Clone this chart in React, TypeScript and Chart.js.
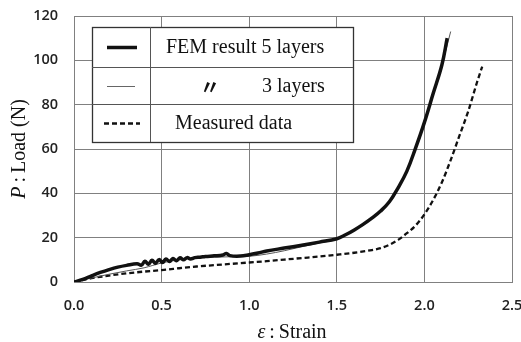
import React, { useEffect, useRef } from "react";
import { Chart, registerables } from "chart.js";

Chart.register(...registerables);

// ---- Data ----
const fem5X = [0, 0.05, 0.1, 0.15, 0.2, 0.25, 0.3, 0.36, 0.385, 0.405, 0.425, 0.445, 0.465, 0.485, 0.505, 0.525, 0.545, 0.565, 0.585, 0.605, 0.625, 0.645, 0.665, 0.69, 0.72, 0.75, 0.8, 0.85, 0.87, 0.89, 0.95, 1.0, 1.05, 1.1, 1.2, 1.3, 1.4, 1.5, 1.55, 1.6, 1.65, 1.7, 1.75, 1.8, 1.85, 1.9, 1.95, 2.0, 2.05, 2.1, 2.13];
const fem5Y = [0, 1.2, 2.8, 4.3, 5.6, 6.7, 7.5, 8.2, 7.6, 9.4, 8.0, 9.8, 8.4, 10.1, 8.8, 10.4, 9.2, 10.6, 9.6, 10.9, 10.0, 11.0, 10.4, 11.0, 11.2, 11.5, 11.8, 12.2, 12.9, 11.9, 11.7, 12.3, 13.1, 14.0, 15.3, 16.6, 18.0, 19.5, 21.3, 23.5, 26.0, 28.8, 32.0, 36.2, 42.5, 50.0, 60.5, 72.0, 85.0, 98.0, 110.0];

const fem3X = [0, 0.1, 0.2, 0.3, 0.4, 0.45, 0.5, 0.55, 0.6, 0.7, 0.8, 0.9, 1.0, 1.1, 1.2, 1.3, 1.4, 1.5, 1.55, 1.6, 1.65, 1.7, 1.75, 1.8, 1.85, 1.9, 1.95, 2.0, 2.05, 2.1, 2.15];
const fem3Y = [0, 1.8, 3.5, 5.0, 6.4, 7.5, 8.6, 9.4, 10.0, 10.8, 11.2, 11.4, 11.6, 12.6, 14.1, 15.9, 17.6, 19.3, 21.1, 23.3, 25.8, 28.6, 31.8, 36.0, 42.3, 49.8, 60.3, 71.8, 84.8, 97.8, 113.0];

const measX = [0, 0.05, 0.1, 0.2, 0.3, 0.4, 0.5, 0.6, 0.7, 0.8, 0.9, 1.0, 1.1, 1.2, 1.3, 1.4, 1.5, 1.6, 1.7, 1.75, 1.8, 1.85, 1.9, 1.95, 2.0, 2.05, 2.1, 2.15, 2.2, 2.25, 2.3, 2.33];
const measY = [0, 0.9, 1.7, 2.9, 3.9, 4.7, 5.4, 6.2, 7.0, 7.6, 8.2, 8.8, 9.4, 10.1, 10.8, 11.5, 12.3, 13.2, 14.4, 15.3, 16.8, 19.0, 22.0, 25.5, 30.5, 37.0, 45.0, 55.0, 66.0, 77.0, 90.0, 97.2];

const xTicks = [0, 0.5, 1.0, 1.5, 2.0, 2.5];
const yTicks = [0, 20, 40, 60, 80, 100, 120];

const legendRows = ["FEM result 5 layers", "3 layers", "Measured data"];
const dittoMark = "\u3003";
const xTitleSym = "ε";
const xTitleText = "\u2009:\u2009Strain";
const yTitleSym = "P";
const yTitleText = "\u2009:\u2009Load (N)";

const toPts = (xs: number[], ys: number[]) => xs.map((x, i) => ({ x, y: ys[i] }));

const SERIF = "'Liberation Serif', 'DejaVu Serif', serif";

const overlayPlugin = {
  id: "overlay",
  afterDraw(chart: any) {
    const ctx = chart.ctx as CanvasRenderingContext2D;
    const area = chart.chartArea;
    ctx.save();
    // Legend box
    const L = 92, T = 27, R = 353, B = 142;
    ctx.fillStyle = "#fff";
    ctx.fillRect(L, T, R - L, B - T);
    ctx.strokeStyle = "#333";
    ctx.lineWidth = 1.3;
    ctx.strokeRect(L + 0.5, T + 0.5, R - L, B - T);
    ctx.lineWidth = 1;
    ctx.strokeStyle = "#555";
    ctx.beginPath();
    ctx.moveTo(150.5, T);
    ctx.lineTo(150.5, B);
    ctx.moveTo(L, 67.5);
    ctx.lineTo(R, 67.5);
    ctx.moveTo(L, 104.5);
    ctx.lineTo(R, 104.5);
    ctx.stroke();
    // samples
    ctx.strokeStyle = "#111";
    ctx.lineWidth = 3.5;
    ctx.beginPath();
    ctx.moveTo(107, 47.5);
    ctx.lineTo(137, 47.5);
    ctx.stroke();
    ctx.strokeStyle = "#666";
    ctx.lineWidth = 1;
    ctx.beginPath();
    ctx.moveTo(107, 86.5);
    ctx.lineTo(135, 86.5);
    ctx.stroke();
    ctx.strokeStyle = "#111";
    ctx.lineWidth = 2.5;
    ctx.setLineDash([5, 3]);
    ctx.beginPath();
    ctx.moveTo(104, 123.5);
    ctx.lineTo(140, 123.5);
    ctx.stroke();
    ctx.setLineDash([]);
    // legend text
    ctx.fillStyle = "#111";
    ctx.textBaseline = "middle";
    ctx.textAlign = "left";
    ctx.font = `20px ${SERIF}`;
    ctx.fillText(legendRows[0], 166, 48);
    ctx.fillText(legendRows[1], 262, 87);
    ctx.fillText(legendRows[2], 175, 124);
    ctx.font = `bold 20px 'Noto Sans CJK JP', sans-serif`;
    ctx.fillText(dittoMark, 200, 87);
    // axis titles
    ctx.font = `italic 20px ${SERIF}`;
    const xSymW = ctx.measureText(xTitleSym).width;
    ctx.font = `20px ${SERIF}`;
    const xTxtW = ctx.measureText(xTitleText).width;
    const xStart = 292 - (xSymW + xTxtW) / 2;
    ctx.textBaseline = "alphabetic";
    ctx.font = `italic 20px ${SERIF}`;
    ctx.fillText(xTitleSym, xStart, 338);
    ctx.font = `20px ${SERIF}`;
    ctx.fillText(xTitleText, xStart + xSymW, 338);

    ctx.translate(25, (area.top + area.bottom) / 2);
    ctx.rotate(-Math.PI / 2);
    ctx.font = `italic 20px ${SERIF}`;
    const ySymW = ctx.measureText(yTitleSym).width;
    ctx.font = `20px ${SERIF}`;
    const yTxtW = ctx.measureText(yTitleText).width;
    const yStart = -(ySymW + yTxtW) / 2;
    ctx.font = `italic 20px ${SERIF}`;
    ctx.fillText(yTitleSym, yStart, 0);
    ctx.font = `20px ${SERIF}`;
    ctx.fillText(yTitleText, yStart + ySymW, 0);
    ctx.restore();
  },
};

export default function App() {
  const ref = useRef<HTMLCanvasElement | null>(null);
  useEffect(() => {
    if (!ref.current) return;
    const tickFont = { family: "'Open Sans', sans-serif", size: 14.5, weight: 600 as any };
    const chart = new Chart(ref.current, {
      type: "line",
      data: {
        datasets: [
          {
            label: "FEM result 5 layers",
            data: toPts(fem5X, fem5Y),
            borderColor: "#111",
            borderWidth: 3.5,
            pointRadius: 0,
            tension: 0.4,
            order: 0,
          },
          {
            label: "3 layers",
            data: toPts(fem3X, fem3Y),
            borderColor: "#555",
            borderWidth: 1,
            pointRadius: 0,
            cubicInterpolationMode: "monotone",
            order: 1,
          },
          {
            label: "Measured data",
            data: toPts(measX, measY),
            borderColor: "#111",
            borderWidth: 2.3,
            borderDash: [5, 3],
            pointRadius: 0,
            cubicInterpolationMode: "monotone",
            order: 2,
          },
        ],
      },
      options: {
        responsive: false,
        animation: false,
        layout: { padding: { top: 16, right: 9, left: 0, bottom: 0 } },
        plugins: { legend: { display: false }, tooltip: { enabled: false } },
        scales: {
          x: {
            type: "linear",
            min: 0,
            max: 2.5,
            afterBuildTicks: (s: any) => {
              s.ticks = xTicks.map((v) => ({ value: v }));
            },
            afterFit: (s: any) => {
              s.height = 60;
              s.paddingLeft = 0;
              s.paddingRight = 0;
            },
            ticks: {
              callback: (v: any) => Number(v).toFixed(1),
              color: "#222",
              font: tickFont,
              padding: 15,
              maxRotation: 0,
            },
            grid: { color: "#808080", lineWidth: 1, drawTicks: false },
            border: { display: true, color: "#808080" },
          },
          y: {
            min: 0,
            max: 120,
            afterBuildTicks: (s: any) => {
              s.ticks = yTicks.map((v) => ({ value: v }));
            },
            afterFit: (s: any) => {
              s.width = 74;
              s.paddingTop = 0;
              s.paddingBottom = 0;
            },
            ticks: {
              color: "#222",
              font: tickFont,
              padding: 16,
            },
            grid: { color: "#808080", lineWidth: 1, drawTicks: false },
            border: { display: true, color: "#808080" },
          },
        },
      },
      plugins: [overlayPlugin],
    });
    return () => chart.destroy();
  }, []);
  return (
    <div style={{ position: "absolute", left: 0, top: 0, width: 521, height: 342, background: "#fff" }}>
      <canvas ref={ref} width={521} height={342} style={{ width: 521, height: 342, display: "block" }} />
    </div>
  );
}
